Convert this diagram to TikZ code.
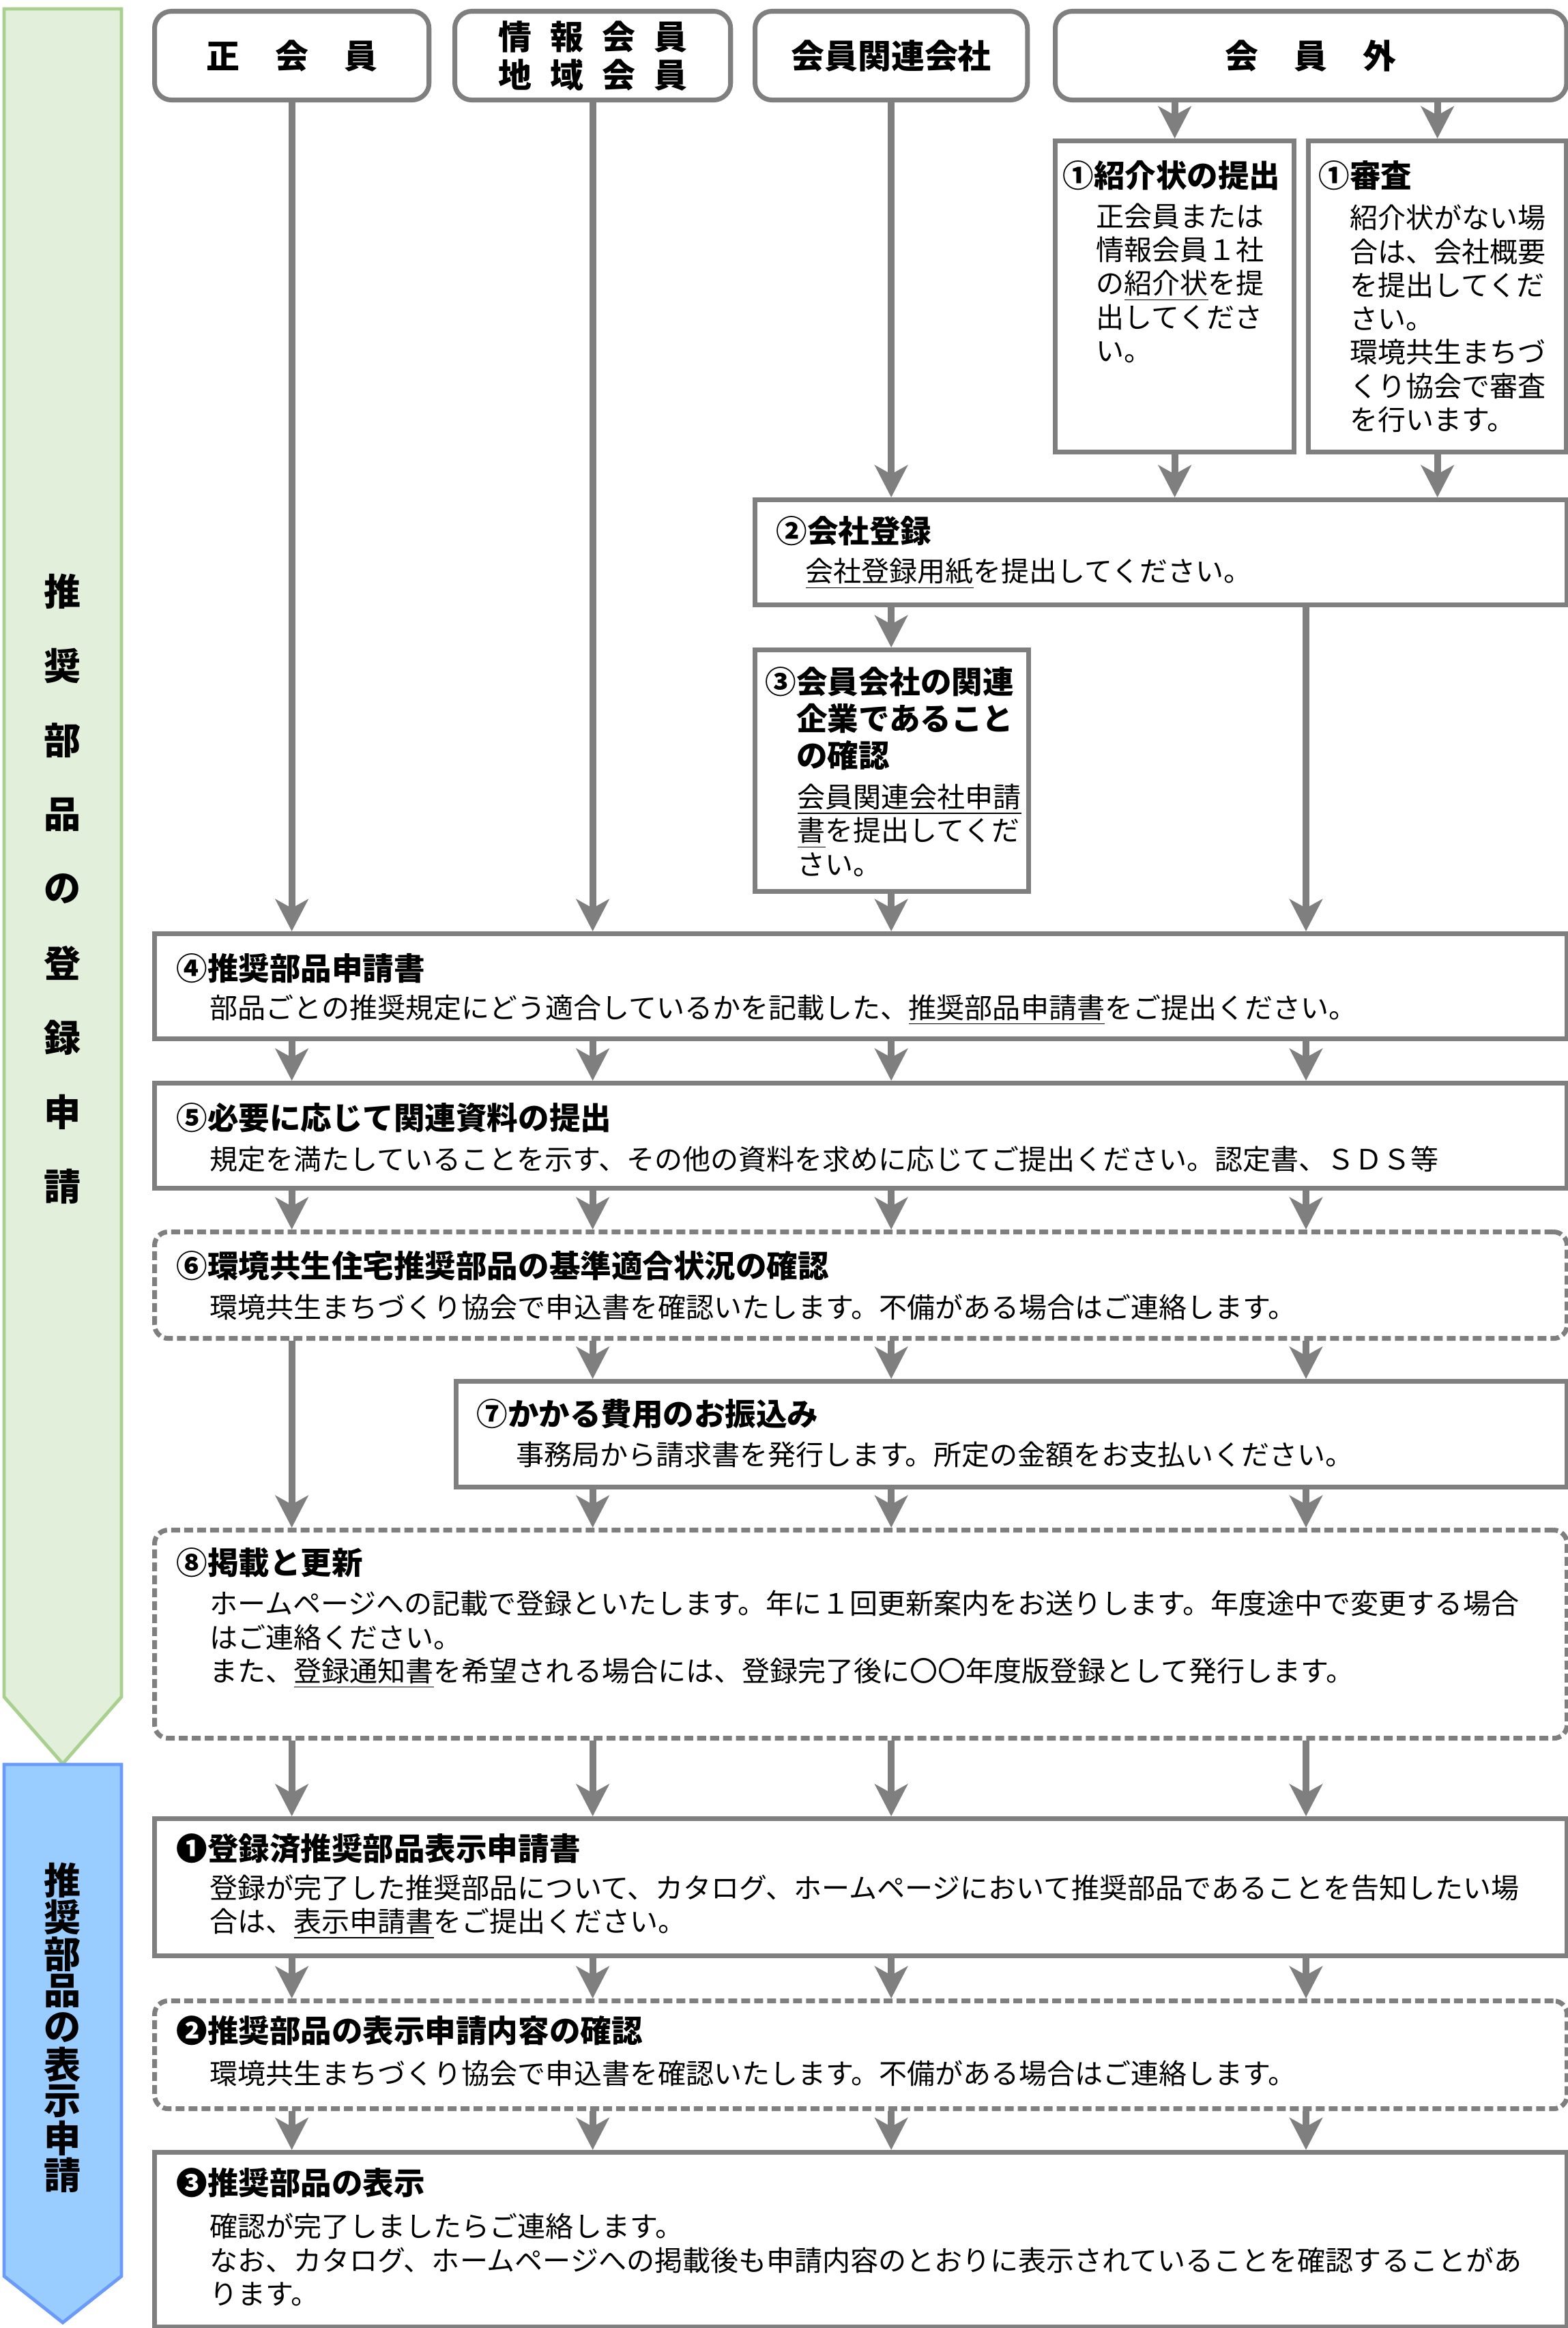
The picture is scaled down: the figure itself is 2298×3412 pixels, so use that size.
\documentclass[tikz,border=0pt]{standalone}
\usepackage{fontspec}
\setmainfont{Noto Sans CJK JP}
\usetikzlibrary{arrows.meta}

\definecolor{grigio}{HTML}{7F7F7F}
\definecolor{verdefill}{HTML}{E2EFDA}
\definecolor{verdeline}{HTML}{A9D08E}
\definecolor{blufill}{HTML}{99CCFF}
\definecolor{bluline}{HTML}{6B9BFA}

\begin{document}
\begin{tikzpicture}[x=0.01cm, y=-0.01cm, line width=2pt,
    >={Stealth[length=0.47cm, width=0.48cm, inset=0.13cm]},
    box/.style={draw=grigio, line width=2pt, inner sep=0pt, anchor=north west},
    hbox/.style={box, rounded corners=0.25cm},
    dbox/.style={box, rounded corners=0.2cm, dash pattern=on 3.7pt off 1.7pt},
    arr/.style={->, draw=grigio, line width=2.8pt},
    hdr/.style={inner sep=0pt, align=center, font=\bfseries\fontsize{13.9pt}{15.9pt}\selectfont},
    ttl/.style={anchor=west, inner sep=0pt, align=left, font=\bfseries\fontsize{12.95pt}{15.4pt}\selectfont},
    txt/.style={anchor=west, inner sep=0pt, align=left, font=\fontsize{11.67pt}{14pt}\selectfont},
    vtxt/.style={inner sep=0pt, font=\bfseries\fontsize{15.4pt}{15.4pt}\selectfont}]

        \useasboundingbox (0,0) rectangle (2298,3412);

        % --- Frecce laterali (fasi) ---
        \draw[verdeline, fill=verdefill, line width=1.4pt]
            (6,13) -- (178,13) -- (178,2487) -- (92,2585) -- (6,2487) -- cycle;
        \draw[bluline, fill=blufill, line width=1.4pt]
            (6,2586) -- (178,2586) -- (178,3336) -- (92,3404) -- (6,3336) -- cycle;

        % testo verticale
        \foreach \ch [count=\k from 0] in {推,奨,部,品,の,登,録,申,請}
            \node[vtxt] (g\k) at (92, 867+109*\k) {\ch};
        \foreach \ch [count=\k from 0] in {推,奨,部,品,の,表,示,申,請}
            \node[vtxt] (v\k) at (92, 2756+54*\k) {\ch};

        % --- Intestazioni (tipi di socio) ---
        \node[hbox, minimum width=4.02cm, minimum height=1.30cm] (h1) at (223,13) {};
        \node[hbox, minimum width=4.04cm, minimum height=1.30cm] (h2) at (663,13) {};
        \node[hbox, minimum width=3.99cm, minimum height=1.30cm] (h3) at (1103,13) {};
        \node[hbox, minimum width=7.49cm, minimum height=1.30cm] (h4) at (1543,13) {};

        \node[hdr] (h1t) at (h1) {正\hspace{0.52cm}会\hspace{0.52cm}員};
        \node[hdr] (h2t) at (h2) {情\hspace{0.27cm}報\hspace{0.27cm}会\hspace{0.27cm}員\\地\hspace{0.27cm}域\hspace{0.27cm}会\hspace{0.27cm}員};
        \node[hdr] (h3t) at (h3) {会員関連会社};
        \node[hdr] (h4t) at (h4) {会\hspace{0.52cm}員\hspace{0.52cm}外};

        % --- Riquadri dei passi ---
        % \nm = nome, \x/\y = angolo in alto a sinistra, \w/\h = dimensioni (cm)
        \foreach \nm/\x/\y/\w/\h in {
            s1/1543/203/3.50/4.56,
            s2/1914/203/3.78/4.56,
            b2/1103/729/11.89/1.54,
            b3/1103/949/4.01/3.54,
            b4/223/1365/20.69/1.54,
            b5/223/1584/20.69/1.54,
            b7/665/2021/16.27/1.55,
            n1/223/2662/20.69/2.01,
            n3/223/3151/20.69/2.56
        } {
            \node[box, minimum width=\w cm, minimum height=\h cm] (\nm) at (\x,\y) {};
        }
        % riquadri tratteggiati (verifiche)
        \foreach \nm/\y/\h in {b6/1802/1.56, b8/2239/3.05, n2/2929/1.58} {
            \node[dbox, minimum width=20.69cm, minimum height=\h cm] (\nm) at (223,\y) {};
        }

        % colonne dei collegamenti
        \coordinate (c1) at (h1.south);
        \coordinate (c2) at (h2.south);
        \coordinate (c3) at (h3.south);
        \coordinate (c4) at (1914,0);

        % --- Collegamenti ---
        \draw[arr] (h4.south -| s1) -- (s1.north);
        \draw[arr] (h4.south -| s2) -- (s2.north);
        \draw[arr] (s1.south) -- (s1.south |- b2.north);
        \draw[arr] (s2.south) -- (s2.south |- b2.north);
        \draw[arr] (h3.south) -- (h3.south |- b2.north);
        \draw[arr] (b2.south -| c3) -- (b3.north -| c3);
        \draw[arr] (b2.south -| c4) -- (b4.north -| c4);
        \draw[arr] (b3.south -| c3) -- (b4.north -| c3);
        \draw[arr] (h1.south) -- (b4.north -| c1);
        \draw[arr] (h2.south) -- (b4.north -| c2);

        \foreach \a/\b in {b4/b5, b5/b6, b8/n1, n1/n2, n2/n3}
            \foreach \c in {c1,c2,c3,c4}
                \draw[arr] (\a.south -| \c) -- (\b.north -| \c);
        \foreach \c in {c2,c3,c4} {
            \draw[arr] (b6.south -| \c) -- (b7.north -| \c);
            \draw[arr] (b7.south -| \c) -- (b8.north -| \c);
        }
        \draw[arr] (b6.south -| c1) -- (b8.north -| c1);

        % --- Testi dei riquadri ---
        \node[ttl] (s1t) at (1554,257) {①紹介状の提出};
        \node[txt] (s1x) at (1603,415) {正会員または\\情報会員１社\\の\underline{紹介状}を提\\出してくださ\\い。};
        \node[ttl] (s2t) at (1929,257) {①審査};
        \node[txt] (s2x) at (1975,467) {紹介状がない場\\合は、会社概要\\を提出してくだ\\さい。\\環境共生まちづ\\くり協会で審査\\を行います。};

        \node[ttl] (b2t) at (1134,778) {②会社登録};
        \node[txt] (b2x) at (1177,841) {\underline{会社登録用紙}を提出してください。};

        \node[ttl] (b3t) at (1118,1053) {③会員会社の関連\\\phantom{③}企業であること\\\phantom{③}の確認};
        \node[txt] (b3x) at (1165,1217) {\underline{会員関連会社申請}\\\underline{書}を提出してくだ\\さい。};

        \node[ttl] (b4t) at (255,1419) {④推奨部品申請書};
        \node[txt] (b4x) at (304,1480) {部品ごとの推奨規定にどう適合しているかを記載した、\underline{推奨部品申請書}をご提出ください。};

        \node[ttl] (b5t) at (255,1638) {⑤必要に応じて関連資料の提出};
        \node[txt] (b5x) at (304,1699) {規定を満たしていることを示す、その他の資料を求めに応じてご提出ください。認定書、ＳＤＳ等};

        \node[ttl] (b6t) at (255,1855) {⑥環境共生住宅推奨部品の基準適合状況の確認};
        \node[txt] (b6x) at (304,1916) {環境共生まちづくり協会で申込書を確認いたします。不備がある場合はご連絡します。};

        \node[ttl] (b7t) at (695,2072) {⑦かかる費用のお振込み};
        \node[txt] (b7x) at (753,2132) {事務局から請求書を発行します。所定の金額をお支払いください。};

        \node[ttl] (b8t) at (255,2290) {⑧掲載と更新};
        \node[txt] (b8x) at (304,2403) {ホームページへの記載で登録といたします。年に１回更新案内をお送りします。年度途中で変更する場合\\はご連絡ください。\\また、\underline{登録通知書}を希望される場合には、登録完了後に〇〇年度版登録として発行します。};

        \node[ttl] (n1t) at (255,2709) {❶登録済推奨部品表示申請書};
        \node[txt] (n1x) at (304,2795) {登録が完了した推奨部品について、カタログ、ホームページにおいて推奨部品であることを告知したい場\\合は、\underline{表示申請書}をご提出ください。};

        \node[ttl] (n2t) at (255,2976) {❷推奨部品の表示申請内容の確認};
        \node[txt] (n2x) at (304,3039) {環境共生まちづくり協会で申込書を確認いたします。不備がある場合はご連絡します。};

        \node[ttl] (n3t) at (255,3199) {❸推奨部品の表示};
        \node[txt] (n3x) at (304,3312) {確認が完了しましたらご連絡します。\\なお、カタログ、ホームページへの掲載後も申請内容のとおりに表示されていることを確認することがあ\\ります。};

    \end{tikzpicture}
\end{document}
